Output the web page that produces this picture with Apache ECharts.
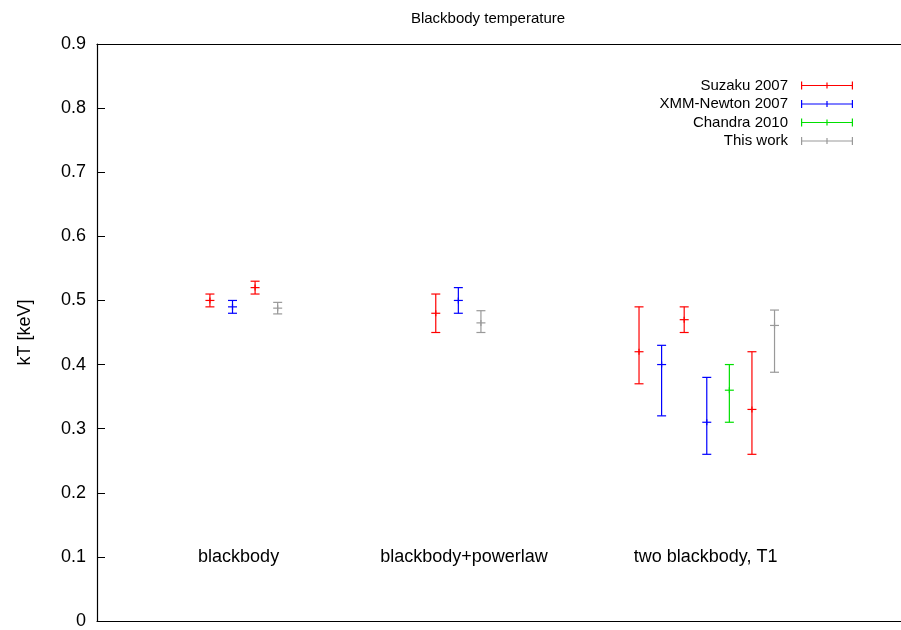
<!DOCTYPE html>
<html>
<head>
<meta charset="utf-8">
<script src="https://cdn.jsdelivr.net/npm/echarts@6/dist/echarts.min.js"></script>
<style>
  html, body { margin: 0; padding: 0; background: #fff; }
  #chart { width: 901px; height: 630px; }
</style>
</head>
<body>
<div id="chart"></div>
<script>
// Fitted blackbody temperatures, one row per measurement: [x slot, kT, low, high]
const seriesNames = ['Suzaku 2007', 'XMM-Newton 2007', 'Chandra 2010', 'This work'];
const seriesColors = ['#ff0000', '#0000ff', '#00e000', '#999999'];

const suzaku = [
  [5, 0.50, 0.49, 0.51],
  [7, 0.52, 0.51, 0.53],
  [15, 0.48, 0.45, 0.51],
  [24, 0.42, 0.37, 0.49],
  [26, 0.47, 0.45, 0.49],
  [29, 0.33, 0.26, 0.42]
];
const xmm = [
  [6, 0.49, 0.48, 0.50],
  [16, 0.50, 0.48, 0.52],
  [25, 0.40, 0.32, 0.43],
  [27, 0.31, 0.26, 0.38]
];
const chandra = [
  [28, 0.36, 0.31, 0.40]
];
const thisWork = [
  [8, 0.488, 0.479, 0.497],
  [17, 0.465, 0.45, 0.484],
  [30, 0.461, 0.388, 0.485]
];

// Model names written inside the plot
const modelLabels = [
  [6.27, 0.1, 'blackbody'],
  [16.25, 0.1, 'blackbody+powerlaw'],
  [26.95, 0.1, 'two blackbody, T1']
];

const yTicks = { min: 0, max: 0.9, interval: 0.1 };

const CAP = 4.5;

function errorBar(params, api) {
  const x = api.value(0);
  const c = api.coord([x, api.value(1)]);
  const lo = api.coord([x, api.value(2)]);
  const hi = api.coord([x, api.value(3)]);
  const style = { stroke: api.visual('color'), lineWidth: 1.2 };
  const seg = (x1, y1, x2, y2) => ({ type: 'line', shape: { x1, y1, x2, y2 }, style });
  return {
    type: 'group',
    children: [
      seg(lo[0], lo[1], hi[0], hi[1]),
      seg(lo[0] - CAP, lo[1], lo[0] + CAP, lo[1]),
      seg(hi[0] - CAP, hi[1], hi[0] + CAP, hi[1]),
      seg(c[0] - CAP, c[1], c[0] + CAP, c[1]),
      seg(c[0], c[1] - 3, c[0], c[1] + 3)
    ]
  };
}

const legendIcon = 'path://M0,4.4h52v1.2H0z M0,1h1.2v8H0z M25.4,2h1.2v6h-1.2z M50.8,1h1.2v8h-1.2z';

const datasets = [suzaku, xmm, chandra, thisWork];

const frameLine = { show: true, lineStyle: { color: '#000', width: 1.2 } };
const hiddenAxisParts = {
  axisTick: { show: false },
  axisLabel: { show: false },
  splitLine: { show: false }
};

const chart = echarts.init(document.getElementById('chart'), null, { renderer: 'canvas' });

chart.setOption({
  animation: false,
  backgroundColor: '#fff',
  textStyle: { fontFamily: 'Liberation Sans, Arial, sans-serif' },
  title: {
    text: 'Blackbody temperature',
    left: 483,
    top: 6,
    textAlign: 'center',
    textStyle: { fontSize: 15, fontWeight: 'normal', color: '#000' }
  },
  legend: {
    orient: 'vertical',
    right: 43,
    top: 73,
    align: 'right',
    itemWidth: 52,
    itemHeight: 10,
    itemGap: 3.5,
    icon: legendIcon,
    textStyle: { fontSize: 15, color: '#000', padding: [0, 8, 0, 0] },
    data: seriesNames
  },
  grid: {
    left: 97,
    right: 0,
    top: 44,
    bottom: 9,
    show: false
  },
  xAxis: [
    Object.assign({
      type: 'value',
      position: 'bottom',
      min: 0,
      max: 35.6,
      axisLine: frameLine
    }, hiddenAxisParts),
    Object.assign({
      type: 'value',
      position: 'top',
      min: 0,
      max: 35.6,
      axisLine: frameLine
    }, hiddenAxisParts)
  ],
  yAxis: {
    type: 'value',
    min: yTicks.min,
    max: yTicks.max,
    interval: yTicks.interval,
    name: 'kT [keV]',
    nameLocation: 'middle',
    nameRotate: 90,
    nameGap: 63,
    nameTextStyle: { fontSize: 18, color: '#000' },
    axisLine: frameLine,
    axisTick: { show: true, inside: true, length: 8, lineStyle: { color: '#000' } },
    axisLabel: {
      fontSize: 18,
      color: '#000',
      margin: 11,
      formatter: v => (Math.round(v * 10) === 0 ? '0' : (Math.round(v * 10) / 10).toFixed(1))
    },
    splitLine: { show: false }
  },
  series: datasets.map((d, i) => ({
    name: seriesNames[i],
    type: 'custom',
    renderItem: errorBar,
    itemStyle: { color: seriesColors[i] },
    encode: { x: 0, y: [1, 2, 3] },
    data: d,
    z: 3
  })).concat([{
    type: 'scatter',
    symbolSize: 0,
    silent: true,
    itemStyle: { opacity: 1 },
    data: modelLabels.map(l => ({ value: [l[0], l[1]], name: l[2] })),
    label: {
      show: true,
      position: [0, 0],
      align: 'center',
      verticalAlign: 'middle',
      formatter: p => p.name,
      fontSize: 18,
      color: '#000'
    }
  }])
});
</script>
</body>
</html>
